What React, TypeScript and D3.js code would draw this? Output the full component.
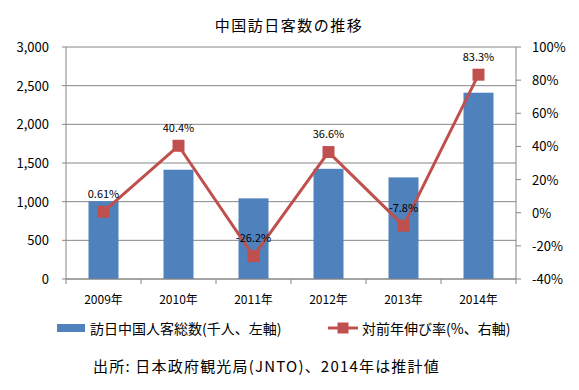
import React from "react";
import * as d3 from "d3";

const years = ["2009年", "2010年", "2011年", "2012年", "2013年", "2014年"];
const visitors = [1006, 1413, 1043, 1425, 1314, 2409];
const growth = [0.61, 40.4, -26.2, 36.6, -7.8, 83.3];
const growthLabels = ["0.61%", "40.4%", "-26.2%", "36.6%", "-7.8%", "83.3%"];
const leftTicks = [0, 500, 1000, 1500, 2000, 2500, 3000];
const rightTicks = [-40, -20, 0, 20, 40, 60, 80, 100];

const W = 579, H = 390;
const left = 66, right = 516, top = 47, bottom = 279;
const FONT = "'Noto Sans CJK JP', 'Noto Sans', sans-serif";
const BLUE = "#4F81BD";
const RED = "#C0504D";
const AXIS = "#868686";

export default function App() {
  const x = d3.scaleBand<string>().domain(years).range([left, right]).paddingInner(0.6).paddingOuter(0.3);
  const band = d3.scaleBand<string>().domain(years).range([left, right]);
  const yL = d3.scaleLinear().domain([0, 3000]).range([bottom, top]);
  const yR = d3.scaleLinear().domain([-40, 100]).range([bottom, top]);
  const fmt = d3.format(",");
  const line = d3.line<number>()
    .x((_, i) => (band(years[i]) as number) + band.bandwidth() / 2)
    .y((d) => yR(d));

  return (
    <svg width={W} height={H} style={{ position: "absolute", left: 0, top: 0, background: "#fff" }} fontFamily={FONT}>
      <rect width={W} height={H} fill="#fff" />
      <text x={289} y={31} textAnchor="middle" fontSize={15} letterSpacing={1.5} fill="#000">中国訪日客数の推移</text>
      {leftTicks.map((t) => (
        <g key={"l" + t}>
          <line x1={left - 4} x2={right} y1={yL(t)} y2={yL(t)} stroke={AXIS} strokeWidth={1} />
          <text x={49} y={yL(t) + 5} textAnchor="end" fontSize={13} fill="#000">{fmt(t)}</text>
        </g>
      ))}
      {rightTicks.map((t) => (
        <g key={"r" + t}>
          <line x1={right} x2={right + 5} y1={yR(t)} y2={yR(t)} stroke={AXIS} strokeWidth={1} />
          <text x={532} y={yR(t) + 5} textAnchor="start" fontSize={13} fill="#000">{t + "%"}</text>
        </g>
      ))}
      <line x1={left} x2={left} y1={top} y2={bottom} stroke={AXIS} />
      <line x1={right} x2={right} y1={top} y2={bottom} stroke={AXIS} />
      {years.map((yr, i) => (
        <line key={"xt" + i} x1={(band(yr) as number)} x2={(band(yr) as number)} y1={bottom} y2={bottom + 5} stroke={AXIS} />
      ))}
      <line x1={right} x2={right} y1={bottom} y2={bottom + 5} stroke={AXIS} />
      {years.map((yr, i) => (
        <rect key={"b" + i} x={x(yr)} y={yL(visitors[i])} width={x.bandwidth()} height={bottom - yL(visitors[i])} fill={BLUE} />
      ))}
      <line x1={left} x2={right} y1={bottom} y2={bottom} stroke={AXIS} />
      <path d={line(growth) || ""} fill="none" stroke={RED} strokeWidth={3} strokeLinejoin="round" />
      {growth.map((g, i) => {
        const cx = (band(years[i]) as number) + band.bandwidth() / 2;
        return (
          <g key={"p" + i}>
            <rect x={cx - 6} y={yR(g) - 6} width={12} height={12} fill={RED} />
            <text x={cx} y={yR(g) - 14} textAnchor="middle" fontSize={11} fill="#000">{growthLabels[i]}</text>
          </g>
        );
      })}
      {years.map((yr) => (
        <text key={"xl" + yr} x={(band(yr) as number) + band.bandwidth() / 2} y={304} textAnchor="middle" fontSize={12} fill="#000">{yr}</text>
      ))}
      <rect x={57} y={324} width={28} height={8} fill={BLUE} />
      <text x={90} y={334} fontSize={14} fill="#000">訪日中国人客総数(千人、左軸)</text>
      <line x1={328} x2={358} y1={328} y2={328} stroke={RED} strokeWidth={3} />
      <rect x={337.5} y={322.5} width={11} height={11} fill={RED} />
      <text x={362} y={334} fontSize={14} fill="#000">対前年伸び率(%、右軸)</text>
      <text x={93} y={372} fontSize={15} letterSpacing={1.2} fill="#000">出所: 日本政府観光局(JNTO)、2014年は推計値</text>
    </svg>
  );
}
